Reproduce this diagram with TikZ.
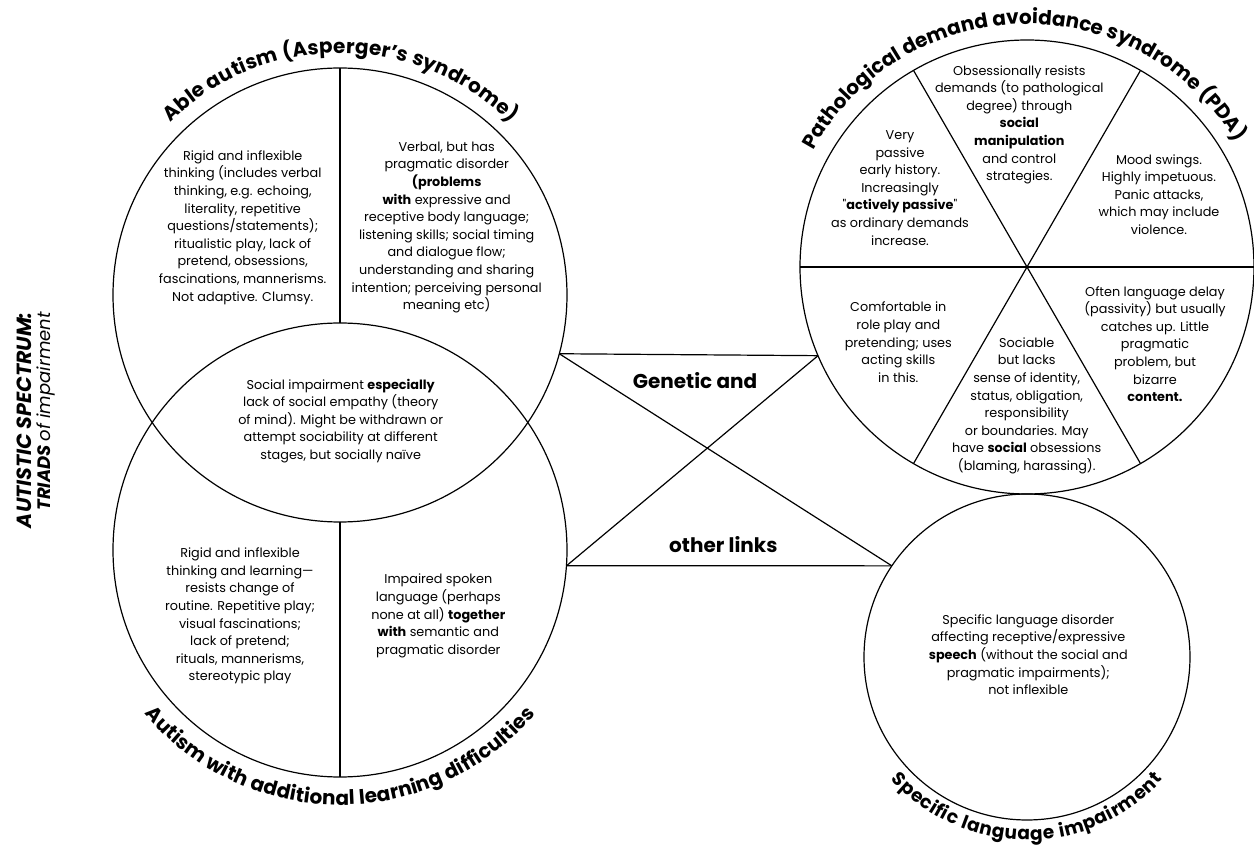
\documentclass[tikz,border=0pt]{standalone}
\usepackage{fontspec}
\setmainfont{Poppins}
\usetikzlibrary{decorations.text}
\newcommand\bodysize{\fontsize{12.8}{17.6}\selectfont}
\newcommand\ttlfont{\fontsize{20}{24}\selectfont\bfseries}
\newcommand\ttlfontb{\fontsize{18.5}{22}\selectfont\bfseries}
\newcommand\sq{{\XeTeXglyph\XeTeXcharglyph"22\relax}}
\begin{document}
\begin{tikzpicture}[x=1pt,y=1pt,
  circ/.style={circle,draw,line width=1.2pt,inner sep=0pt,outer sep=0pt},
  ln/.style={line width=1.2pt},
  txt/.style={align=center,inner sep=0pt,font=\bodysize},
  bigtxt/.style={font=\fontsize{20}{22}\selectfont\bfseries,inner sep=0pt},
  ttl/.style={decorate,decoration={text along path,text align=fit to path,text={|\ttlfont|#1}}},
  ttlb/.style={decorate,decoration={text along path,text align=fit to path,text={|\ttlfontb|#1}}}
]
\useasboundingbox (0,0) rectangle (1254,852);

% circles
\node[circ,minimum size=454pt] (A) at (340,557) {};
\node[circ,minimum size=454pt] (B) at (340,302) {};
\node[circ,minimum size=454pt] (P) at (1027,585) {};
\node[circ,minimum size=326pt] (S) at (1027,195) {};

% dividers
\draw[ln] (A.north) -- (B.north);
\draw[ln] (A.south) -- (B.south);
\draw[ln] (P.west) -- (P.east);
\draw[ln] (P.60) -- (P.240);
\draw[ln] (P.120) -- (P.300);

% bow tie
\coordinate (t1) at (A.-15.59);
\coordinate (t2) at (P.203.08);
\coordinate (b1) at (B.-4.29);
\coordinate (b2) at (S.146.48);
\draw[ln] (t1) -- (t2);
\draw[ln] (b1) -- (b2);
\draw[ln] (t1) -- (b2);
\draw[ln] (b1) -- (t2);
\node[bigtxt] (gen) at (695,471.3) {Genetic and};
\node[bigtxt] (oth) at (723.3,307) {other links};

% curved titles
\path[ttl={Able autism (Asperger's syndrome)}] (A) ++(134.5:242) arc[start angle=134.5,end angle=45.3,radius=242];
\path[ttl={Pathological demand avoidance syndrome (PDA)}] (P) ++(151.4:243) arc[start angle=151.4,end angle=31.8,radius=243];
\path[ttl={Autism with additional learning difficulties}] (B) ++(220:255) arc[start angle=220,end angle=320,radius=255];
\path[ttlb={Specific language impairment}] (S) ++(222:183) arc[start angle=222,end angle=318,radius=183];

% side title
\node[rotate=90,anchor=east,align=right,inner sep=0pt,font=\fontsize{18}{19.5}\selectfont] (side) at (36,540)
  {{\fontsize{20.5}{19.5}\selectfont\bfseries\itshape AUTISTIC SPECTRUM:}\\{\bfseries\itshape TRIADS \mdseries of impairment}};

% Able autism texts
\node[txt] (a1) at (242.7,624.5) {Rigid and inflexible\\thinking (includes verbal\\thinking, e.g. echoing,\\literality, repetitive\\questions/statements);\\ritualistic play, lack of\\pretend, obsessions,\\fascinations, mannerisms.\\Not adaptive. Clumsy.};
\node[txt] (a2) at (446.7,624.5) {Verbal, but has\\pragmatic disorder\\\textbf{(problems}\\\textbf{with} expressive and\\receptive body language;\\listening skills; social timing\\and dialogue flow;\\understanding and sharing\\intention; perceiving personal\\meaning etc)};
\node[txt] (ab) at (340.7,431) {Social impairment \textbf{especially}\\lack of social empathy (theory\\of mind). Might be withdrawn or\\attempt sociability at different\\stages, but socially naïve};
\node[txt] (b1t) at (240,236) {Rigid and inflexible\\thinking and learning—\\resists change of\\routine. Repetitive play;\\visual fascinations;\\lack of pretend;\\rituals, mannerisms,\\stereotypic play};
\node[txt] (b2t) at (438.3,236) {Impaired spoken\\language (perhaps\\none at all) \textbf{together}\\\textbf{with} semantic and\\pragmatic disorder};

% PDA texts
\node[txt] (p1) at (900,664) {Very\\passive\\early history.\\Increasingly\\\sq\textbf{actively passive}\sq\\as ordinary demands\\increase.};
\node[txt] (p2) at (1019.3,727.3) {Obsessionally resists\\demands (to pathological\\degree) through\\\textbf{social}\\\textbf{manipulation}\\and control\\strategies.};
\node[txt] (p3) at (1159,657.5) {Mood swings.\\Highly impetuous.\\Panic attacks,\\which may include\\violence.};
\node[txt] (p4) at (898.3,509.7) {Comfortable in\\role play and\\pretending; uses\\acting skills\\in this.};
\node[txt] (p5) at (1026.7,446.2) {Sociable\\but lacks\\sense of identity,\\status, obligation,\\responsibility\\or boundaries. May\\have \textbf{social} obsessions\\(blaming, harassing).};
\node[txt] (p6) at (1155,508) {Often language delay\\(passivity) but usually\\catches up. Little\\pragmatic\\problem, but\\bizarre\\\textbf{content.}};

% SLI text
\node[txt] (s1) at (1028.3,197.3) {Specific language disorder\\affecting receptive/expressive\\\textbf{speech} (without the social and\\pragmatic impairments);\\not inflexible};
\end{tikzpicture}
\end{document}
